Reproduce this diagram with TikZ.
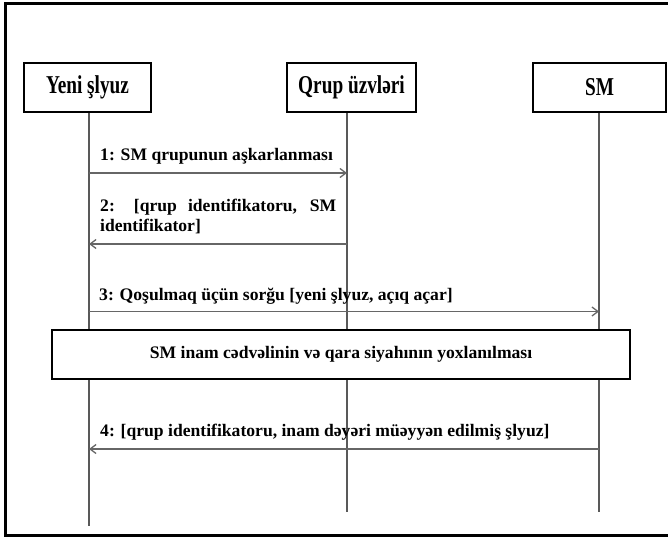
\documentclass[tikz,border=0pt]{standalone}
\usepackage{fontspec}
\setmainfont{Liberation Serif}
\newfontfamily\headfont{Liberation Serif}[FakeStretch=0.75]
\usetikzlibrary{arrows.meta}
\tikzset{
    actor/.style={draw, line width=2.6pt, minimum height=49pt, inner sep=0pt, font=\headfont\fontsize{25.7pt}{30pt}\bfseries\selectfont},
    lifeline/.style={draw=black!65, line width=1.3pt},
    msg/.style={draw=black!60, line width=1.3pt, -{Straight Barb[length=6pt,width=9pt]}},
    msgfont/.style={font=\fontsize{17.6pt}{20pt}\bfseries\selectfont},
    msgtext/.style={msgfont, anchor=base west, inner sep=0pt}}

\begin{document}
\begin{tikzpicture}[x=1pt,y=-1pt]
\useasboundingbox (0,0) rectangle (668,537);
\draw[line width=3pt] (672,4) -- (5,4) -- (5,535) -- (672,535);

% participants
\node[actor, minimum width=127pt] (yeni) at (87.5,87.5) {Yeni şlyuz};
\node[actor, minimum width=129pt] (qrup) at (351.5,87.5) {Qrup üzvləri};
\node[actor, minimum width=133pt] (sm) at (599.5,87.5) {SM};

% lifelines
\coordinate (yeni end) at (89,526);
\coordinate (qrup end) at (347,512);
\coordinate (sm end) at (599,512);
\draw[lifeline] (yeni end |- yeni.south) -- (yeni end);
\draw[lifeline] (qrup end |- qrup.south) -- (qrup end);
\draw[lifeline] (sm end |- sm.south) -- (sm end);

% messages
\coordinate (m1a) at (89,173);
\coordinate (m1b) at (347,173);
\coordinate (m2a) at (347,244);
\coordinate (m2b) at (89,244);
\coordinate (m3a) at (89,311.5);
\coordinate (m3b) at (599,311.5);
\coordinate (m4a) at (599,449);
\coordinate (m4b) at (89,449);
\draw[msg] (m1a) -- (m1b);
\draw[msg] (m2a) -- (m2b);
\draw[msg] (m3a) -- (m3b);
\draw[msg] (m4a) -- (m4b);
\node[msgtext] (t1) at (100,161) {1: SM qrupunun aşkarlanması};
\node[msgtext] (t2) at (100,231) {\parbox[b]{236pt}{\tolerance=10000 2: [qrup identifikatoru, SM identifikator]}};
\node[msgtext] (t3) at (99,300.5) {3: Qoşulmaq üçün sorğu [yeni şlyuz, açıq açar]};
\node[msgtext] (t4) at (100,436) {4: [qrup identifikatoru, inam dəyəri müəyyən edilmiş şlyuz]};

% check box
\node[draw, fill=white, line width=2.6pt, minimum width=578pt, minimum height=49pt, msgfont] (check) at (341,354.5) {SM inam cədvəlinin və qara siyahının yoxlanılması};
\end{tikzpicture}
\end{document}
